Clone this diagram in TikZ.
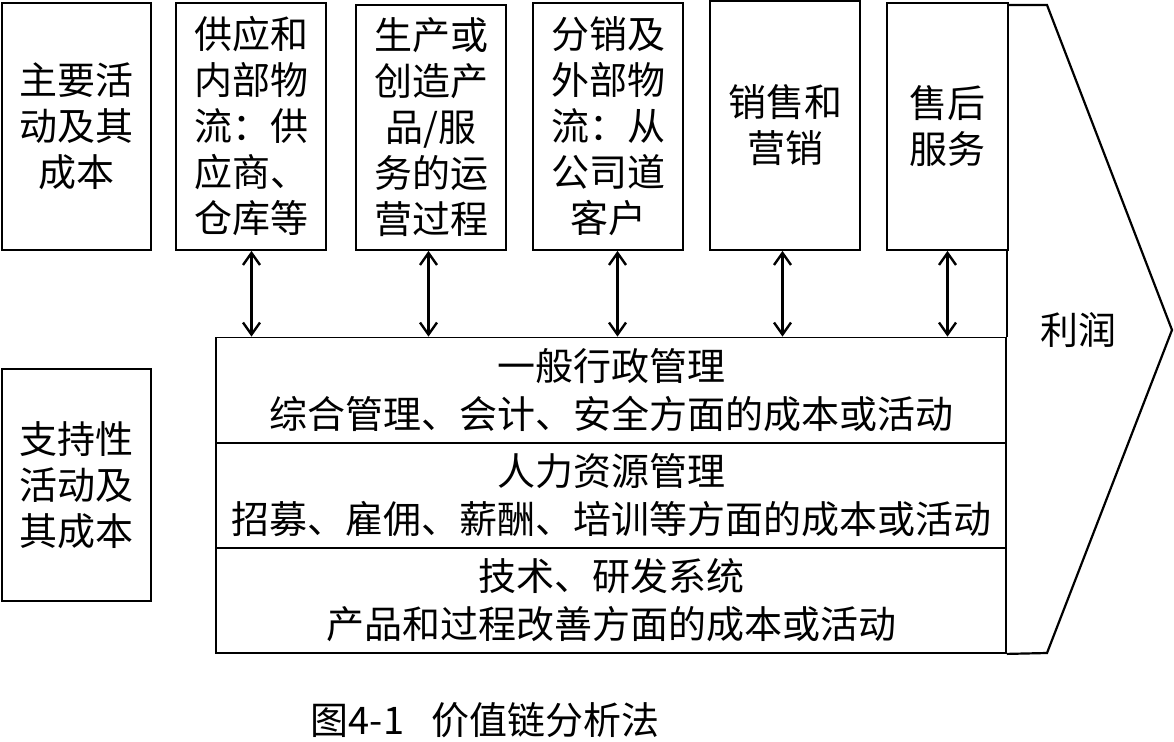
\documentclass[tikz,border=0pt]{standalone}
\usepackage{fontspec}
\newfontfamily\cjk{Noto Sans CJK SC}
\usetikzlibrary{arrows.meta}
\begin{document}
\begin{tikzpicture}[x=1pt,y=-1pt,
  txt/.style={font=\cjk\fontsize{38}{46}\selectfont, align=center},
  box/.style={draw, line width=1.8pt, inner sep=0pt, txt},
  sect/.style={draw, line width=1.8pt, inner sep=0pt, minimum width=790pt, minimum height=105pt, font=\cjk\fontsize{38}{48}\selectfont, align=center},
  barb/.tip={Straight Barb[length=12pt,width=17pt,line width=2.4pt]},
  linkline/.style={draw, line width=2.4pt, barb-barb},
  chevron/.style={draw, line width=2.2pt, line join=miter}]
\useasboundingbox (0,0) rectangle (1174,741);
\fill[white] (0,0) rectangle (1174,741);
% primary activities
\node[box, minimum width=149pt, minimum height=247pt] (b1) at (76.5,126.5) {主要活\\动及其\\成本};
\node[box, minimum width=150pt, minimum height=247pt] (b2) at (251,126.5) {供应和\\内部物\\流：供\\应商、\\仓库等};
\node[box, minimum width=150pt, minimum height=245pt] (b3) at (431,127.5) {生产或\\创造产\\品/服\\务的运\\营过程};
\node[box, minimum width=150pt, minimum height=247pt] (b4) at (608,126.5) {分销及\\外部物\\流：从\\公司道\\客户};
\node[box, minimum width=150pt, minimum height=249pt] (b5) at (785,125.5) {销售和\\营销};
\node[box, minimum width=121pt, minimum height=247pt] (b6) at (947.5,126.5) {售后\\服务};
% support activities
\node[box, minimum width=149pt, minimum height=232pt] (s1) at (76.5,485) {支持性\\活动及\\其成本};
\node[sect] (g1) at (611,390) {一般行政管理\\综合管理、会计、安全方面的成本或活动};
\node[sect] (g2) at (611,495.5) {人力资源管理\\招募、雇佣、薪酬、培训等方面的成本或活动};
\node[sect] (g3) at (611,600.5) {技术、研发系统\\产品和过程改善方面的成本或活动};
% links
\path[linkline] ([xshift=0.5pt]b2.south) -- ([xshift=0.5pt]b2.south |- g1.north);
\path[linkline] ([xshift=-2.5pt]b3.south) -- ([xshift=-2.5pt]b3.south |- g1.north);
\path[linkline] ([xshift=9.5pt]b4.south) -- ([xshift=9.5pt]b4.south |- g1.north);
\path[linkline] ([xshift=-2.5pt]b5.south) -- ([xshift=-2.5pt]b5.south |- g1.north);
\path[linkline] (b6.south) -- (b6.south |- g1.north);
% profit chevron
\coordinate (ct) at (1047,5);
\coordinate (tip) at (1172,330);
\coordinate (cb) at (1047,653);
\path[chevron] (b6.north east |- ct) -- (ct) -- (tip) -- (cb) -- (g3.south east);
\path[chevron] ([xshift=-2pt]b6.south east) -- ([xshift=-2pt]b6.south east |- g1.north);
\node[txt] (profit) at (1078,330) {利润};
% caption
\node[txt] (cap) at (485,720) {图4-1\hspace{27pt}价值链分析法};
\end{tikzpicture}
\end{document}
